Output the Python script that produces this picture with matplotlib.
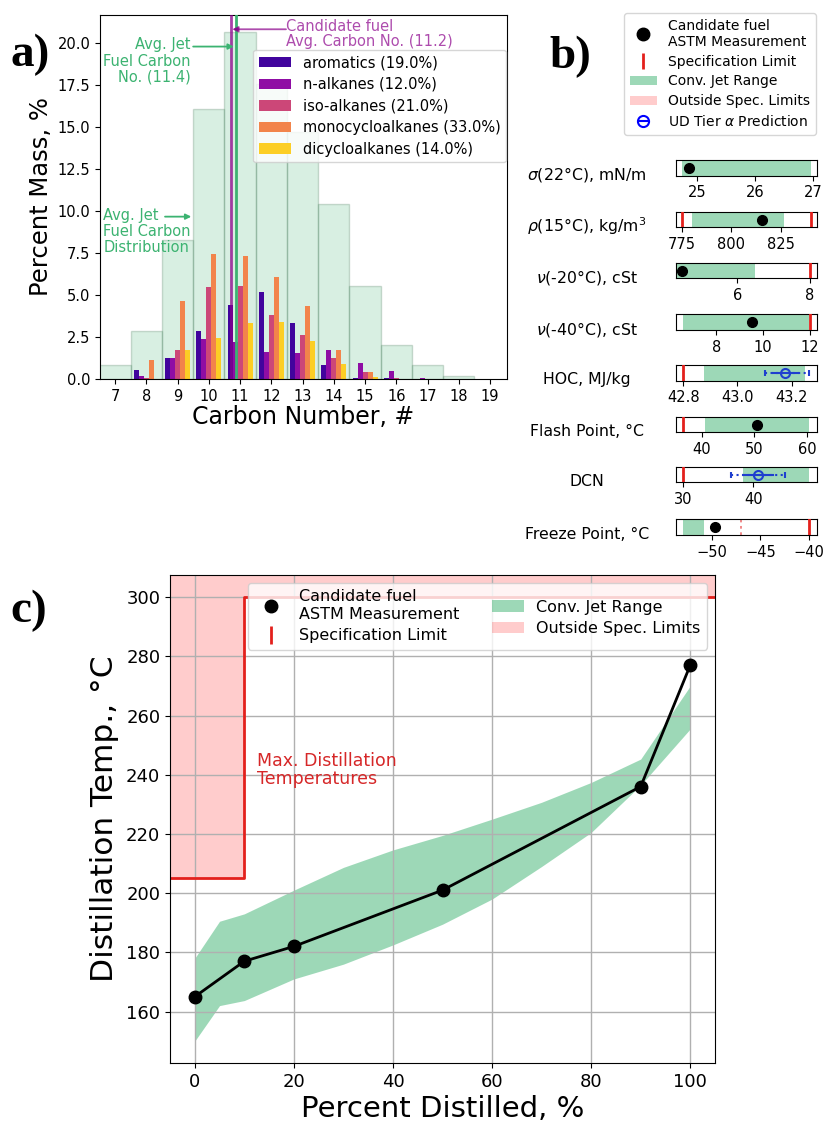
import numpy as np
import matplotlib
matplotlib.use('Agg')
import matplotlib.pyplot as plt
from matplotlib.lines import Line2D
from matplotlib.patches import Patch
from matplotlib.legend_handler import HandlerTuple

# ---------------- Panel a data ----------------
carbon_numbers = [7, 8, 9, 10, 11, 12, 13, 14, 15, 16, 17, 18]
jet_distribution = [0.85, 2.88, 8.25, 16.1, 20.65, 17.6, 14.7, 10.4, 5.56, 2.04, 0.81, 0.16]
aromatics = [0, 0.52, 1.28, 2.84, 4.4, 5.18, 3.33, 0.85, 0.08, 0.03, 0, 0]
n_alkanes = [0, 0.15, 1.25, 2.38, 2.2, 1.6, 1.55, 1.71, 0.95, 0.46, 0.04, 0]
iso_alkanes = [0, 0.05, 1.7, 5.48, 5.52, 3.84, 2.64, 1.25, 0.4, 0.05, 0, 0]
monocycloalkanes = [0, 1.11, 4.62, 7.46, 7.34, 6.05, 4.33, 1.71, 0.4, 0.02, 0, 0]
dicycloalkanes = [0, 0, 1.7, 2.44, 3.35, 3.37, 2.24, 0.91, 0.12, 0, 0, 0]
class_labels = ['aromatics (19.0%)', 'n-alkanes (12.0%)', 'iso-alkanes (21.0%)',
                'monocycloalkanes (33.0%)', 'dicycloalkanes (14.0%)']
candidate_avg_cn = 11.2
jet_avg_cn = 11.4
a_xticks = list(range(7, 20))
a_yticks = [0, 2.5, 5, 7.5, 10, 12.5, 15, 17.5, 20]

# ---------------- Panel b data ----------------
prop_labels = [r'$\sigma$(22°C), mN/m', r'$\rho$(15°C), kg/m$^3$', r'$\nu$(-20°C), cSt',
               r'$\nu$(-40°C), cSt', 'HOC, MJ/kg', 'Flash Point, °C', 'DCN', 'Freeze Point, °C']
prop_xlim = [(24.64, 27.06), (772.0, 843.0), (4.31, 8.18), (6.28, 12.29),
             (42.773, 43.292), (35.13, 61.78), (29.05, 48.96), (-53.66, -39.24)]
prop_ticks = [[25, 26, 27], [775, 800, 825], [6, 8], [8, 10, 12],
              [42.8, 43.0, 43.2], [40, 50, 60], [30, 40], [-50, -45, -40]]
prop_ticklabels = [['25', '26', '27'], ['775', '800', '825'], ['6', '8'], ['8', '10', '12'],
                   ['42.8', '43.0', '43.2'], ['40', '50', '60'], ['30', '40'],
                   ['\u221250', '\u221245', '\u221240']]
conv_low = [24.75, 780.2, 4.33, 6.57, 42.878, 40.6, 38.6, -52.97]
conv_high = [26.96, 826.7, 6.49, 11.96, 43.25, 60.4, 47.9, -50.8]
measured = [24.87, 815.7, 4.48, 9.53, None, 50.4, None, -49.66]
spec_limits = [[], [775, 840], [8], [12], [42.8], [36.5], [30], [-40]]
# prediction: (center, 1-sigma low, 1-sigma high, 2-sigma low, 2-sigma high)
predictions = [None, None, None, None,
               (43.176, 43.13, 43.225, 43.103, 43.264), None,
               (40.6, 38.6, 42.8, 36.8, 44.5), None]
freeze_jetA1 = -47

# ---------------- Panel c data ----------------
pct_distilled = [0, 10, 20, 50, 90, 100]
candidate_temp = [165, 177, 182, 201, 236, 277]
range_pct = [0, 5, 10, 20, 30, 40, 50, 60, 70, 80, 90, 100]
range_low = [150, 162, 163.7, 171, 176, 182.5, 189.5, 198, 209, 220.5, 236.5, 255.5]
range_high = [178, 190.5, 193, 201, 208.7, 214.6, 219.5, 225, 230.7, 237.4, 245.3, 270]
spec_pct = [-5, 10, 10, 105]
spec_temp = [205, 205, 300, 300]
c_xticks = [0, 20, 40, 60, 80, 100]
c_yticks = [160, 180, 200, 220, 240, 260, 280, 300]

W, H = 826, 1131
fig = plt.figure(figsize=(W / 100, H / 100), dpi=100)

GREEN = 'mediumseagreen'
SPEC_RED = '#e3201c'

def fx(px):
    return px / W

def fy(py):
    return 1 - py / H

# ================= Panel a =================
axa = fig.add_axes([fx(100), fy(379), fx(407), 364 / H])
axa.bar(carbon_numbers, jet_distribution, width=1.0,
        facecolor=(60 / 255, 179 / 255, 113 / 255, 0.2),
        edgecolor=(0.25, 0.45, 0.32, 0.25), linewidth=1.0, zorder=1)
cmap = plt.get_cmap('plasma')
series = [aromatics, n_alkanes, iso_alkanes, monocycloalkanes, dicycloalkanes]
bw = 0.16
cn = np.array(carbon_numbers, dtype=float)
for k, (vals, lab) in enumerate(zip(series, class_labels)):
    axa.bar(cn + (k - 2) * bw, vals, width=bw, color=cmap(0.1 + 0.2 * k),
            label=lab, zorder=2)
axa.axvline(candidate_avg_cn - 0.5, color='darkmagenta', alpha=0.75, lw=2, zorder=3)
axa.axvline(jet_avg_cn - 0.53, color=GREEN, lw=2, zorder=3)
axa.set_xlim(6.52, 19.54)
axa.set_ylim(0, 21.68)
axa.set_xticks(a_xticks)
axa.set_yticks(a_yticks)
axa.set_yticklabels(['%.1f' % v for v in a_yticks])
axa.tick_params(labelsize=10.5)
axa.set_xlabel('Carbon Number, #', fontsize=17, labelpad=1)
axa.set_ylabel('Percent Mass, %', fontsize=17.5, labelpad=3)

arrow_kw = dict(arrowstyle='-|>', lw=1.3, mutation_scale=8, shrinkA=0, shrinkB=0)
# candidate annotation
axa.annotate('', xy=(candidate_avg_cn - 0.45, 20.83), xytext=(12.47, 20.83),
             arrowprops=dict(color='darkmagenta', alpha=0.7, **arrow_kw))
axa.text(12.47, 21.45, 'Candidate fuel\nAvg. Carbon No. (11.2)', ha='left', va='top',
         fontsize=10.5, color='darkmagenta', alpha=0.7, linespacing=1.05)
# jet avg annotation
axa.text(9.42, 20.35, 'Avg. Jet\nFuel Carbon\nNo. (11.4)', ha='right', va='top',
         multialignment='right', fontsize=10.5, color=GREEN, linespacing=1.1)
axa.annotate('', xy=(jet_avg_cn - 0.6, 19.8), xytext=(9.5, 19.8),
             arrowprops=dict(color=GREEN, **arrow_kw))
# distribution annotation
axa.text(6.62, 10.2, 'Avg. Jet\nFuel Carbon\nDistribution', ha='left', va='top',
         fontsize=10.5, color=GREEN, linespacing=1.1)
axa.annotate('', xy=(9.44, 9.67), xytext=(8.6, 9.67),
             arrowprops=dict(color=GREEN, **arrow_kw))
axa.legend(loc='upper right', bbox_to_anchor=(0.998, 0.905), borderaxespad=0,
           fontsize=10.5, handlelength=2.2, labelspacing=0.45)

# ================= Panel b =================
row_tops = [160, 211.7, 262.7, 314.3, 365, 416.7, 466.7, 519.3]
row_h = 15.7
for i, top in enumerate(row_tops):
    ax = fig.add_axes([fx(676), fy(top + row_h), fx(140.5), row_h / H])
    ax.set_xlim(*prop_xlim[i])
    ax.set_ylim(0, 1)
    ax.axvspan(conv_low[i], conv_high[i], color=GREEN, alpha=0.5, lw=0, zorder=1)
    for s in spec_limits[i]:
        ax.axvline(s, color=SPEC_RED, lw=2, zorder=3)
    if i == 7:
        ax.axvline(freeze_jetA1, color='#f08080', lw=1.3, ls=(0, (1.5, 2)), zorder=2)
    if measured[i] is not None:
        ax.plot([measured[i]], [0.5], 'o', color='k', ms=7, zorder=5)
    if predictions[i] is not None:
        c, l1, h1, l2, h2 = predictions[i]
        ax.plot([l2, h2], [0.5, 0.5], ls=':', color='#1f3fcf', lw=1.5, zorder=4)
        ax.plot([l2, h2], [0.5, 0.5], ls='none', marker='|', color='#1f3fcf', ms=4, mew=1.5, zorder=4)
        ax.plot([l1, h1], [0.5, 0.5], ls='-', color='#1f3fcf', lw=1.5, zorder=4)
        ax.plot([c], [0.5], 'o', mfc='none', mec='#1f3fcf', mew=1.5, ms=6.5, zorder=5)
    ax.set_yticks([])
    ax.set_xticks(prop_ticks[i])
    ax.set_xticklabels(prop_ticklabels[i])
    ax.tick_params(labelsize=10.5, length=3.5)
    ax.text(-0.633, 0.05, prop_labels[i], transform=ax.transAxes, ha='center',
            va='center', fontsize=11.3)

b_handles = [
    Line2D([], [], marker='o', color='k', ls='none', ms=9),
    Line2D([], [], marker='|', color=SPEC_RED, ls='none', ms=12, mew=2),
    Patch(facecolor=GREEN, alpha=0.5),
    Patch(facecolor='red', alpha=0.2),
    (Line2D([], [], marker='o', mfc='none', mec='blue', ls='none', ms=8, mew=1.5),
     Line2D([], [], marker='_', color='blue', ls='none', ms=8, mew=1.5)),
]
b_labels = ['Candidate fuel\nASTM Measurement', 'Specification Limit', 'Conv. Jet Range',
            'Outside Spec. Limits', r'UD Tier $\alpha$ Prediction']
fig.legend(b_handles, b_labels, loc='upper right', bbox_to_anchor=(fx(816), fy(13)),
           borderaxespad=0, fontsize=10, handler_map={tuple: HandlerTuple(ndivide=1)},
           labelspacing=0.42)

# ================= Panel c =================
axc = fig.add_axes([fx(170), fy(1063.3), fx(545), 488.3 / H])
axc.fill_between(spec_pct, spec_temp, 307.5, color='red', alpha=0.2, lw=0, zorder=0.5)
axc.plot(spec_pct, spec_temp, color=SPEC_RED, lw=2, zorder=2)
axc.fill_between(range_pct, range_low, range_high, color=GREEN, alpha=0.5, lw=0, zorder=1)
axc.plot(pct_distilled, candidate_temp, '-o', color='k', lw=2, ms=9, zorder=4)
axc.text(12.6, 247.8, 'Max. Distillation\nTemperatures', color='#d62728', fontsize=12.5,
         ha='left', va='top', linespacing=1.05)
axc.set_xlim(-5, 105)
axc.set_ylim(142.5, 307.5)
axc.set_xticks(c_xticks)
axc.set_yticks(c_yticks)
axc.grid(True, color='#b0b0b0', lw=1)
axc.tick_params(labelsize=13)
axc.set_xlabel('Percent Distilled, %', fontsize=21, labelpad=3)
axc.set_ylabel('Distillation Temp., °C', fontsize=22.5, labelpad=5)
c_handles = [
    Line2D([], [], marker='o', color='k', ls='none', ms=9),
    Line2D([], [], marker='|', color=SPEC_RED, ls='none', ms=13, mew=2),
    Patch(facecolor=GREEN, alpha=0.5),
    Patch(facecolor='red', alpha=0.2),
]
c_labels = ['Candidate fuel\nASTM Measurement', 'Specification Limit', 'Conv. Jet Range',
            'Outside Spec. Limits']
axc.legend(c_handles, c_labels, loc='upper right', ncol=2, fontsize=11.5,
           labelspacing=0.4)

# panel letters
for txt, x, y in [('a)', 10, 66), ('b)', 549, 68), ('c)', 10, 622)]:
    fig.text(fx(x), fy(y), txt, fontsize=34, fontweight='bold', family='Liberation Serif',
             ha='left', va='baseline')

fig.savefig('out.png', dpi=100)
